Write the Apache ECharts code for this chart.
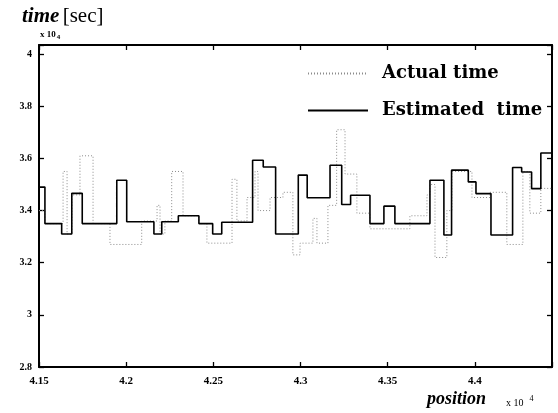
<!DOCTYPE html>
<html>
<head>
<meta charset="utf-8">
<script src="https://cdn.jsdelivr.net/npm/echarts@6/dist/echarts.min.js"></script>
<style>
  html, body { margin: 0; padding: 0; background: #fff; }
  #c { width: 558px; height: 413px; }
</style>
</head>
<body>
<div id="c"></div>
<script>
// Position along the track (x 10^4) where each step begins, and the time held on that step (x 10^4 sec)
const estPos = [4.1500, 4.1534, 4.1630, 4.1688, 4.1748, 4.1946, 4.2003, 4.2159, 4.2204, 4.2299,
                4.2417, 4.2496, 4.2548, 4.2725, 4.2786, 4.2857, 4.2987, 4.3038, 4.3169, 4.3236,
                4.3287, 4.3398, 4.3478, 4.3541, 4.3742, 4.3822, 4.3866, 4.3962, 4.4006, 4.4092,
                4.4216, 4.4268, 4.4325, 4.4378];
const estVal = [3.49, 3.35, 3.31, 3.466, 3.35, 3.516, 3.357, 3.31, 3.357, 3.38,
                3.35, 3.31, 3.355, 3.593, 3.567, 3.31, 3.536, 3.449, 3.574, 3.423,
                3.459, 3.35, 3.417, 3.35, 3.516, 3.306, 3.555, 3.51, 3.465, 3.306,
                3.565, 3.548, 3.484, 3.621];

const actPos = [4.1500, 4.1534, 4.1638, 4.1661, 4.1689, 4.1735, 4.1810, 4.1907, 4.2089, 4.2177,
                4.2194, 4.2222, 4.2261, 4.2326, 4.2417, 4.2463, 4.2607, 4.2635, 4.2693, 4.2739,
                4.2756, 4.2825, 4.2899, 4.2956, 4.2997, 4.3071, 4.3094, 4.3157, 4.3207, 4.3255,
                4.3323, 4.3398, 4.3627, 4.3725, 4.3742, 4.3771, 4.3839, 4.3868, 4.3983, 4.4086,
                4.4183, 4.4275, 4.4315, 4.4378];
const actVal = [3.40, 3.35, 3.55, 3.31, 3.46, 3.61, 3.35, 3.27, 3.36, 3.42,
                3.31, 3.36, 3.55, 3.38, 3.35, 3.275, 3.52, 3.36, 3.45, 3.55,
                3.40, 3.45, 3.47, 3.23, 3.275, 3.37, 3.275, 3.42, 3.71, 3.54,
                3.39, 3.33, 3.38, 3.46, 3.50, 3.22, 3.40, 3.55, 3.45, 3.47,
                3.27, 3.55, 3.39, 3.485];

const xTickLabels = ['4.15', '4.2', '4.25', '4.3', '4.35', '4.4'];
const yTickLabels = ['2.8', '3', '3.2', '3.4', '3.6', '3.8', '4'];

const X_MIN = 4.15, X_MAX = 4.4442, X_STEP = 0.05;
const Y_MIN = 2.8, Y_MAX = 4.035, Y_STEP = 0.2;

const SERIF = "'Liberation Serif', 'Times New Roman', serif";
const WIDE_SERIF = "'DejaVu Serif', 'Liberation Serif', serif";

// each step holds its value until the next step begins; the last one runs to the axis end
function steps(pos, val) {
  const d = pos.map((p, i) => [p, val[i]]);
  d.push([X_MAX, val[val.length - 1]]);
  return d;
}

function tickLabel(list, min, step) {
  return function (v) {
    const k = (v - min) / step;
    const i = Math.round(k);
    return Math.abs(k - i) < 1e-6 && list[i] !== undefined ? list[i] : '';
  };
}

const axisLineStyle = { color: '#000', width: 2 };
const tickStyle = { inside: true, length: 5, lineStyle: { color: '#000', width: 1.3 } };
const labelFont = { fontFamily: SERIF, fontWeight: 'bold', color: '#000' };

const chart = echarts.init(document.getElementById('c'), null, { renderer: 'canvas' });

chart.setOption({
  animation: false,
  backgroundColor: '#fff',
  color: ['#8c8c8c', '#000'],
  grid: { left: 39, right: 6, top: 45, bottom: 46 },
  xAxis: [
    {
      type: 'value', min: X_MIN, max: X_MAX, interval: X_STEP, position: 'bottom',
      axisLine: { onZero: false, lineStyle: axisLineStyle },
      axisTick: tickStyle,
      axisLabel: Object.assign({ fontSize: 11, margin: 9,
        formatter: tickLabel(xTickLabels, X_MIN, X_STEP) }, labelFont),
      splitLine: { show: false }
    },
    {
      type: 'value', min: X_MIN, max: X_MAX, interval: X_STEP, position: 'top',
      axisLine: { onZero: false, lineStyle: axisLineStyle },
      axisTick: tickStyle,
      axisLabel: { show: false },
      splitLine: { show: false }
    }
  ],
  yAxis: [
    {
      type: 'value', min: Y_MIN, max: Y_MAX, interval: Y_STEP, position: 'left',
      axisLine: { onZero: false, lineStyle: axisLineStyle },
      axisTick: tickStyle,
      axisLabel: Object.assign({ fontSize: 10, margin: 7,
        formatter: tickLabel(yTickLabels, Y_MIN, Y_STEP) }, labelFont),
      splitLine: { show: false }
    },
    {
      type: 'value', min: Y_MIN, max: Y_MAX, interval: Y_STEP, position: 'right',
      axisLine: { onZero: false, lineStyle: axisLineStyle },
      axisTick: tickStyle,
      axisLabel: { show: false },
      splitLine: { show: false }
    }
  ],
  legend: {
    orient: 'vertical',
    left: 302, top: 58,
    itemWidth: 60, itemHeight: 14, itemGap: 16,
    selectedMode: false,
    itemStyle: { opacity: 0 },
    textStyle: {
      fontFamily: WIDE_SERIF, fontSize: 18, fontWeight: 'bold', color: '#000',
      lineHeight: 21, padding: [0, 0, 0, 9]
    },
    data: ['Actual time', 'Estimated  time']
  },
  graphic: [
    {
      type: 'text', left: 22, top: 6,
      style: {
        text: '{a|time} {b|[sec]}',
        rich: {
          a: { fontFamily: SERIF, fontSize: 21, fontStyle: 'italic', fontWeight: 'bold', fill: '#000' },
          b: { fontFamily: SERIF, fontSize: 21, fill: '#000' }
        }
      }
    },
    {
      type: 'text', left: 40, top: 30,
      style: {
        text: '{a|x 10}{b|4}',
        rich: {
          a: { fontFamily: SERIF, fontSize: 9, fontWeight: 'bold', fill: '#000' },
          b: { fontFamily: SERIF, fontSize: 7, fontWeight: 'bold', fill: '#000', padding: [6, 0, 0, 1] }
        }
      }
    },
    {
      type: 'text', left: 427, top: 390,
      style: {
        text: '{a|position}',
        rich: {
          a: { fontFamily: SERIF, fontSize: 18, fontStyle: 'italic', fontWeight: 'bold', fill: '#000' }
        }
      }
    },
    {
      type: 'text', left: 506, top: 395,
      style: {
        text: '{a|x 10}{b|4}',
        rich: {
          a: { fontFamily: SERIF, fontSize: 10, fill: '#000' },
          b: { fontFamily: SERIF, fontSize: 8, fill: '#000', padding: [0, 0, 9, 6] }
        }
      }
    }
  ],
  series: [
    {
      name: 'Actual time',
      type: 'line', step: 'end',
      data: steps(actPos, actVal),
      symbol: 'none',
      itemStyle: { color: '#8c8c8c' },
      lineStyle: { color: '#8c8c8c', width: 1, type: [1, 2] },
      z: 2
    },
    {
      name: 'Estimated  time',
      type: 'line', step: 'end',
      data: steps(estPos, estVal),
      symbol: 'none',
      itemStyle: { color: '#000' },
      lineStyle: { color: '#000', width: 1.6 },
      z: 3
    }
  ]
});
</script>
</body>
</html>
